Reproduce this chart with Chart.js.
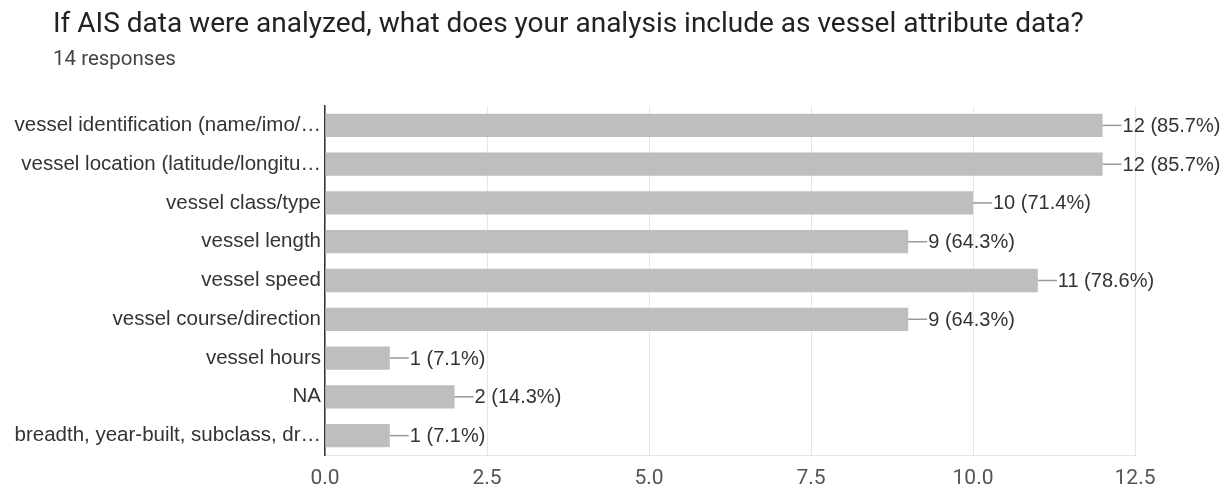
<!DOCTYPE html>
<html>
<head>
<meta charset="utf-8">
<script src="https://cdn.jsdelivr.net/npm/chart.js@4"></script>
<style>
  html, body { margin: 0; padding: 0; background: #fff; }
  #wrap { position: relative; width: 1226px; height: 488px; }
  #title { position: absolute; left: 53px; top: 6px; font: 28px Roboto, Arial, sans-serif; color: #222; white-space: nowrap; }
  #sub { position: absolute; left: 53px; top: 46px; font: 20.5px Roboto, Arial, sans-serif; color: #444; }
  canvas { position: absolute; left: 0; top: 0; }
</style>
</head>
<body>
<div id="wrap">
  <canvas id="chart" width="1226" height="488"></canvas>
  <div id="title">If AIS data were analyzed, what does your analysis include as vessel attribute data?</div>
  <div id="sub">14 responses</div>
</div>
<script>
// answer options (as truncated in the form summary)
const categories = [
    'vessel identification (name/imo/…',
    'vessel location (latitude/longitu…',
    'vessel class/type',
    'vessel length',
    'vessel speed',
    'vessel course/direction',
    'vessel hours',
    'NA',
    'breadth, year-built, subclass, dr…'
];
const counts = [12, 12, 10, 9, 11, 9, 1, 2, 1];
const percents = ['85.7%', '85.7%', '71.4%', '64.3%', '78.6%', '64.3%', '7.1%', '14.3%', '7.1%'];
const xTicks = [0, 2.5, 5, 7.5, 10, 12.5];

// leader line + "count (pct)" next to each bar
const valueLabels = {
    id: 'valueLabels',
    afterDatasetsDraw(chart) {
        const ctx = chart.ctx;
        const meta = chart.getDatasetMeta(0);
        ctx.save();
        ctx.font = '20px "Liberation Sans", Arial, sans-serif';
        ctx.textBaseline = 'middle';
        meta.data.forEach((bar, i) => {
            const x = bar.x, y = bar.y;
            ctx.strokeStyle = '#999';
            ctx.lineWidth = 1.5;
            ctx.beginPath();
            ctx.moveTo(x, y);
            ctx.lineTo(x + 19, y);
            ctx.stroke();
            ctx.fillStyle = '#333';
            ctx.fillText(counts[i] + ' (' + percents[i] + ')', x + 20, y + 1);
        });
        ctx.restore();
    }
};

new Chart(document.getElementById('chart').getContext('2d'), {
    type: 'bar',
    data: {
        labels: categories,
        datasets: [{
            data: counts,
            backgroundColor: '#bdbebe',
            barPercentage: 0.6,
            categoryPercentage: 1.0
        }]
    },
    options: {
        indexAxis: 'y',
        responsive: false,
        animation: false,
        layout: { padding: { top: 106, right: 91, left: 0, bottom: 0 } },
        plugins: {
            legend: { display: false },
            tooltip: { enabled: false }
        },
        scales: {
            x: {
                min: 0,
                max: 12.5,
                afterBuildTicks: (scale) => { scale.ticks = xTicks.map(v => ({ value: v })); },
                afterFit: (scale) => { scale.height = 33; },
                ticks: {
                    padding: 11,
                    color: '#555',
                    font: { family: 'Roboto, Arial, sans-serif', size: 21 },
                    callback: (v) => Number(v).toFixed(1)
                },
                grid: { color: '#e6e6e6', drawTicks: false },
                border: { color: '#e6e6e6' }
            },
            y: {
                afterFit: (scale) => { scale.width = 325; },
                ticks: {
                    padding: 4,
                    color: '#333',
                    font: { family: '"Liberation Sans", Arial, sans-serif', size: 20.5 }
                },
                grid: { display: false, drawTicks: false },
                border: { color: '#333', width: 1.5 }
            }
        }
    },
    plugins: [valueLabels]
});
</script>
</body>
</html>
